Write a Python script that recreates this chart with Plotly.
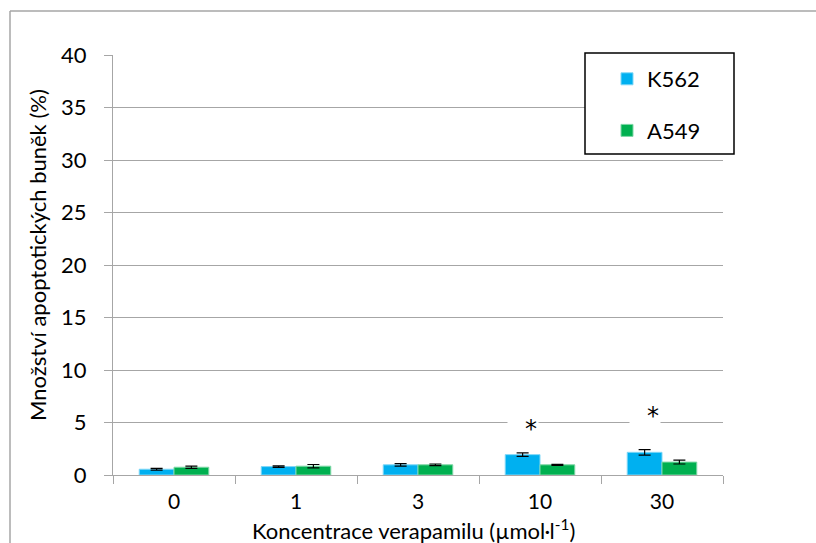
import plotly.graph_objects as go

categories = ["0", "1", "3", "10", "30"]
k562 = [0.55, 0.80, 0.97, 1.94, 2.16]
k562_err = [0.08, 0.07, 0.12, 0.17, 0.26]
a549 = [0.74, 0.84, 0.97, 0.97, 1.23]
a549_err = [0.10, 0.16, 0.08, 0.05, 0.18]
sig_index = [3, 4]          # positions of "10" and "30"
sig_y = [4.4, 5.6]

FONT = "Lato, 'Open Sans', sans-serif"
GRAY = "#a6a6a6"

# plot-area pixel geometry
L, R, T, B = 113, 723, 55, 475
W, H = R - L, B - T


def px_x(p):
    return (p - L) / W


def px_y(p):
    return (B - p) / H


fig = go.Figure()
fig.add_trace(go.Bar(
    x=categories, y=k562, name="K562", legendgroup="a",
    marker=dict(color="#00b0f0", line=dict(color="#7fd7f7", width=1)),
    error_y=dict(type="data", array=k562_err, color="black", thickness=1.2, width=6),
))
fig.add_trace(go.Bar(
    x=categories, y=a549, name="A549", legendgroup="b",
    marker=dict(color="#00b050", line=dict(color="#7fd7a7", width=1)),
    error_y=dict(type="data", array=a549_err, color="black", thickness=1.2, width=6),
))

for xi, yv in zip(sig_index, sig_y):
    fig.add_annotation(x=xi, y=yv, xref="x", yref="y", text="*", showarrow=False,
                       xshift=-17, bgcolor="white", width=28, align="right",
                       font=dict(family="DejaVu Sans", size=24, color="black"))

fig.add_annotation(x=px_x(413), y=0, xref="paper", yref="paper", yshift=-54,
                   text="Koncentrace verapamilu (µmol·l<sup>-1</sup>)", showarrow=False,
                   yanchor="middle", borderpad=0,
                   font=dict(family=FONT, size=22, color="black"))
fig.add_annotation(x=0, y=px_y(255), xref="paper", yref="paper", xshift=-76,
                   text="Množství apoptotických buněk (%)", textangle=-90, showarrow=False,
                   xanchor="center", yanchor="middle", font=dict(family=FONT, size=22, color="black"))

# outer chart border (top and left edges visible)
fig.add_shape(type="line", xref="paper", yref="paper",
              x0=px_x(10), x1=px_x(830), y0=px_y(11), y1=px_y(11),
              line=dict(color=GRAY, width=1.5))
fig.add_shape(type="line", xref="paper", yref="paper",
              x0=px_x(10), x1=px_x(10), y0=px_y(11), y1=px_y(560),
              line=dict(color=GRAY, width=1.5))
# legend frame
fig.add_shape(type="rect", xref="paper", yref="paper",
              x0=px_x(585), x1=px_x(734), y0=px_y(154), y1=px_y(53),
              line=dict(color="black", width=1.5), fillcolor="white", layer="above")

fig.update_layout(
    width=816, height=543,
    margin=dict(l=L, r=816 - R, t=T, b=543 - B),
    paper_bgcolor="white", plot_bgcolor="white",
    barmode="group", bargap=0.43, bargroupgap=0,
    font=dict(family=FONT, size=22, color="black"),
    legend=dict(x=px_x(607), y=px_y(58), xanchor="left", yanchor="top",
                borderwidth=0, bgcolor="rgba(0,0,0,0)",
                font=dict(size=22), tracegroupgap=20, itemwidth=30),
    xaxis=dict(type="category", range=[-0.5, 4.5], showline=True, linecolor=GRAY, linewidth=1,
               ticks="outside", tickson="boundaries", ticklen=8, tickcolor=GRAY,
               showgrid=False, ticklabelstandoff=8, tickfont=dict(size=21)),
    yaxis=dict(range=[0, 40], dtick=5, showline=True, linecolor=GRAY, linewidth=1,
               ticks="outside", ticklen=8, tickcolor=GRAY,
               showgrid=True, gridcolor=GRAY, gridwidth=1, zeroline=False,
               ticklabelstandoff=13),
)

fig.write_html("out.html")
